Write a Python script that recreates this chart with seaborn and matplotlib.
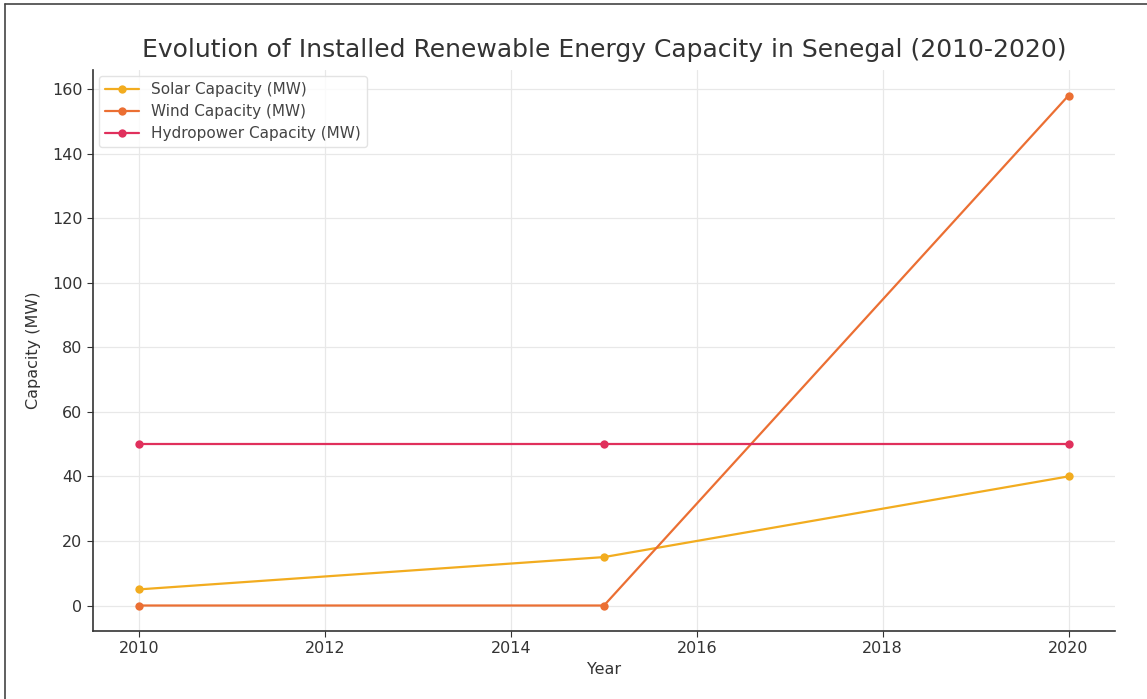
import numpy as np
import pandas as pd
import matplotlib
matplotlib.use('Agg')
import matplotlib.pyplot as plt
import seaborn as sns
from matplotlib.lines import Line2D

# data
years = [2010, 2015, 2020]
solar = [5, 15, 40]
wind = [0, 0, 158]
hydro = [50, 50, 50]
labels = ['Solar Capacity (MW)', 'Wind Capacity (MW)', 'Hydropower Capacity (MW)']
colors = ['#f2ac1f', '#eb6f33', '#e0305c']

df = pd.DataFrame({'Year': years, labels[0]: solar, labels[1]: wind, labels[2]: hydro})
long_df = df.melt(id_vars='Year', var_name='series', value_name='Capacity')

sns.set_style('ticks')
plt.rcParams['font.family'] = ['DejaVu Sans']

fig = plt.figure(figsize=(11.47, 6.99), dpi=100)
ax = fig.add_axes([93 / 1147, 1 - 631 / 699, (1115 - 93) / 1147, (631 - 70) / 699])

sns.lineplot(data=long_df, x='Year', y='Capacity', hue='series', palette=colors,
             marker='o', markersize=6, markeredgewidth=0, linewidth=1.6, ax=ax)

ax.grid(True, color='#e8e8e8', linewidth=0.9)
ax.set_axisbelow(True)
sns.despine(ax=ax)
for s in ['left', 'bottom']:
    ax.spines[s].set_color('#333333')
    ax.spines[s].set_linewidth(1.2)
ax.set_xticks([2010, 2012, 2014, 2016, 2018, 2020])
ax.set_yticks(range(0, 161, 20))
ax.tick_params(labelsize=11.5, colors='#333333', length=4)
ax.set_title('Evolution of Installed Renewable Energy Capacity in Senegal (2010-2020)',
             fontsize=18, color='#333333', pad=9)
ax.set_xlabel('Year', fontsize=11.5, color='#333333', labelpad=4)
ax.set_ylabel('Capacity (MW)', fontsize=11.5, color='#333333', labelpad=8)

handles, lbls = ax.get_legend_handles_labels()
leg = ax.legend(handles, lbls, loc='upper left', fontsize=11, frameon=True,
                borderaxespad=0.4, handlelength=2.2, labelspacing=0.45)
leg.get_frame().set_edgecolor('#dddddd')
for t in leg.get_texts():
    t.set_color('#444444')

# screenshot frame on top and left
fig.add_artist(Line2D([0.004, 0.004], [0, 0.994], color='#444444', lw=1.2, transform=fig.transFigure))
fig.add_artist(Line2D([0.004, 1], [0.994, 0.994], color='#444444', lw=1.2, transform=fig.transFigure))

fig.savefig('out.png', dpi=100)
